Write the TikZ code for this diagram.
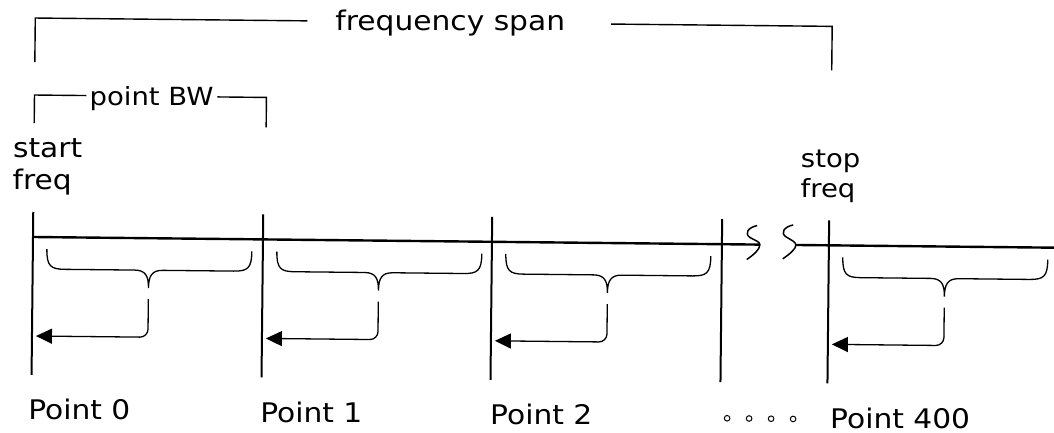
\documentclass[tikz,border=0pt]{standalone}
\usepackage{graphicx}
\usepackage{fontspec}
\setmainfont{DejaVu Sans}
\usetikzlibrary{arrows.meta}
\newcommand{\lbl}[1]{\scalebox{1.1}[1]{#1}}
\newcommand{\ptbrace}[2]{%
  \draw[bracestyle] ({#1+14},249) .. controls ({#1+14},266) and ({#1+18},269) .. ({#1+32},269)
    -- ({#1+102},269) .. controls ({#1+113},269) and ({#1+116},275) .. ({#1+116},287)
    .. controls ({#1+116},275) and ({#1+119},269) .. ({#1+130},269)
    -- ({#1+201},269) .. controls ({#1+215},269) and ({#1+219},266) .. ({#1+219},249);
  \coordinate (#2top) at ({#1+116},298);
  \coordinate (#2bend) at ({#1+116},336);
  \coordinate (#2tip) at ({#1+4},336);
  \draw[ptr] (#2top) -- (#2bend) -- (#2tip);
}
\begin{document}
\begin{tikzpicture}[x=1pt,y=-1pt,
  txt/.style={anchor=base west,inner sep=0pt,font=\fontsize{27}{30}\selectfont},
  txts/.style={anchor=base west,inner sep=0pt,font=\fontsize{25}{28}\selectfont},
  axisline/.style={line width=2.4pt},
  tickline/.style={line width=2pt},
  bracket/.style={line width=1.4pt},
  bracestyle/.style={line width=1.3pt},
  squig/.style={line width=1.5pt},
  ptr/.style={line width=1.3pt,rounded corners=8pt,-{Triangle[length=16pt,width=15pt]}},
  dotc/.style={line width=1pt}]
\useasboundingbox (0,0) rectangle (1054,433);
\begin{scope}[rotate around={-0.6:(33,237)}]
  % top bracket: frequency span
  \node[txt] (fspan) at (333,27) {\lbl{frequency span}};
  \coordinate (fsL) at (33,62);
  \coordinate (fsLt) at (33,18);
  \coordinate (fsLe) at (305,18);
  \coordinate (fsRs) at (609,18);
  \coordinate (fsRt) at (830,18);
  \coordinate (fsR) at (830,62);
  \draw[bracket] (fsL) -- (fsLt) -- (fsLe);
  \draw[bracket] (fsRs) -- (fsRt) -- (fsR);
  % point BW bracket
  \node[txts] (pbw) at (88,105) {\lbl{point BW}};
  \coordinate (bwL) at (33,123);
  \coordinate (bwLt) at (33,95);
  \coordinate (bwLe) at (85,95);
  \coordinate (bwRs) at (216,95);
  \coordinate (bwRt) at (265,95);
  \coordinate (bwR) at (265,125);
  \draw[bracket] (bwL) -- (bwLt) -- (bwLe);
  \draw[bracket] (bwRs) -- (bwRt) -- (bwR);
  % start / stop labels
  \node[txt] (start1) at (12,158) {\lbl{start}};
  \node[txt] (start2) at (12,190) {\lbl{freq}};
  \node[txts] (stop1) at (800,159) {\lbl{stop}};
  \node[txts] (stop2) at (800,189) {\lbl{freq}};
  % vertical point lines
  \foreach \xx/\nm in {33/a,263/b,492/c,722/d,829/e}{
    \coordinate (\nm t) at (\xx,212);
    \coordinate (\nm b) at (\xx,375);
    \draw[tickline] (\nm t) -- (\nm b);
  }
  % axis with break
  \coordinate (ax0) at (33,237);
  \coordinate (axm1) at (760,237);
  \coordinate (axm2) at (796,237);
  \coordinate (ax1) at (1054,237);
  \draw[axisline] (ax0) -- (axm1);
  \draw[axisline] (axm2) -- (ax1);
  \draw[squig] (757,218) .. controls (748,220) and (744,226) .. (750,230)
     .. controls (755,233) and (760,234) .. (axm1)
     .. controls (760,242) and (754,247) .. (747,252);
  \draw[squig] (793,217) .. controls (784,219) and (780,225) .. (786,229)
     .. controls (791,232) and (796,234) .. (axm2)
     .. controls (796,241) and (790,246) .. (783,251);
  % braces and arrows
  \ptbrace{33}{p0}
  \ptbrace{263}{p1}
  \ptbrace{492}{p2}
  \ptbrace{829}{p4}
  % bottom labels
  \node[txt] (lp0) at (30,420) {\lbl{Point 0}};
  \node[txt] (lp1) at (262,420) {\lbl{Point 1}};
  \node[txt] (lp2) at (492,420) {\lbl{Point 2}};
  \node[txt] (lp4) at (832,420) {\lbl{Point 400}};
  \foreach \xx in {729,751,773,795}{
    \draw[dotc] (\xx,411) circle (2.8pt);
  }
\end{scope}
\end{tikzpicture}
\end{document}
